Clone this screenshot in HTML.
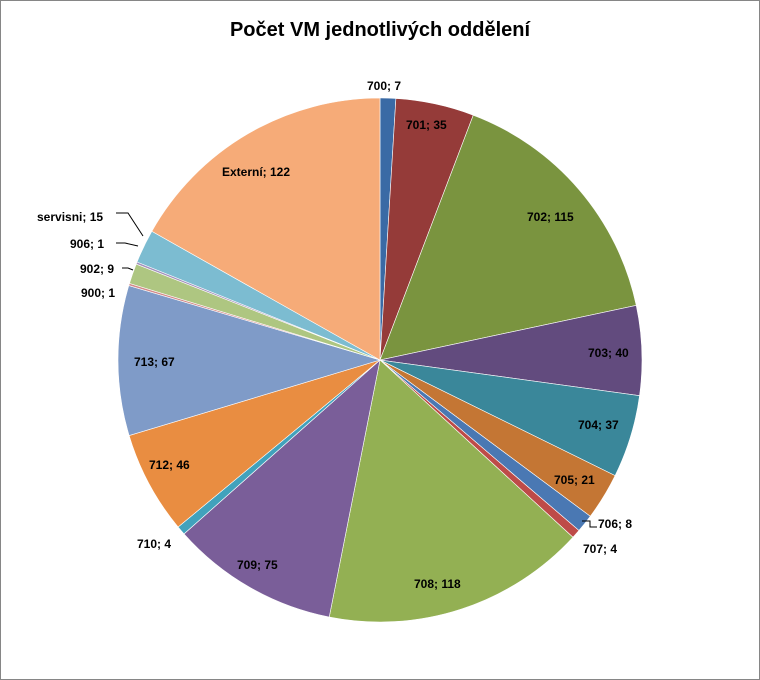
<!DOCTYPE html>
<html><head><meta charset="utf-8"><style>
html,body{margin:0;padding:0;background:#fff;}
svg{display:block;}
text{font-family:"Liberation Sans",sans-serif;font-weight:bold;font-size:12px;fill:#000;}
</style></head><body>
<svg id="s" width="760" height="680" viewBox="0 0 760 680">
<rect x="0.5" y="0.5" width="759" height="679" fill="#fff" stroke="#868686"/>
<text x="380" y="36" text-anchor="middle" style="font-size:20px">Počet VM jednotlivých oddělení</text>
<g id="p"></g>
<g stroke="#000" stroke-width="1" fill="none">
<polyline points="116,213 128,213 143,236"/>
<polyline points="116,243 125,243 138,246"/>
<polyline points="122,268 128,268 133,270"/>
<polyline points="582,521 590,521 590,527 597,527"/>
</g>
<text x="367" y="90">700; 7</text>
<text x="406" y="129">701; 35</text>
<text x="527" y="221">702; 115</text>
<text x="588" y="357">703; 40</text>
<text x="578" y="429">704; 37</text>
<text x="554" y="484">705; 21</text>
<text x="598" y="528">706; 8</text>
<text x="583" y="553">707; 4</text>
<text x="414" y="588">708; 118</text>
<text x="237" y="569">709; 75</text>
<text x="137" y="548">710; 4</text>
<text x="149" y="469">712; 46</text>
<text x="134" y="366">713; 67</text>
<text x="81" y="297">900; 1</text>
<text x="80" y="273">902; 9</text>
<text x="70" y="248">906; 1</text>
<text x="37" y="221">servisni; 15</text>
<text x="222" y="176">Externí; 122</text>
</svg>
<script>
var v=[7,35,115,40,37,21,8,4,118,75,4,46,67,1,9,1,15,122];
var c=["#3A6AA5","#953B39","#7A943F","#624B7E","#3A879A","#C47634","#4A78B3","#BE4B48","#93B053","#7A5E99","#41A2BC","#E98D41","#7F9BC8","#D38A88","#AEC681","#A392BD","#7CBCD1","#F6AB78"];
var t=v.reduce((a,b)=>a+b,0),cx=380,cy=360,r=262,a=-Math.PI/2,g=document.getElementById('p'),h='';
for(var i=0;i<v.length;i++){var b=a+v[i]/t*2*Math.PI;
var x1=cx+r*Math.cos(a),y1=cy+r*Math.sin(a),x2=cx+r*Math.cos(b),y2=cy+r*Math.sin(b);
h+='<path d="M'+cx+','+cy+'L'+x1+','+y1+'A'+r+','+r+' 0 '+(b-a>Math.PI?1:0)+' 1 '+x2+','+y2+'Z" fill="'+c[i]+'" stroke="#fff" stroke-width="0.6"/>';a=b;}
g.innerHTML=h;
</script>
</body></html>
